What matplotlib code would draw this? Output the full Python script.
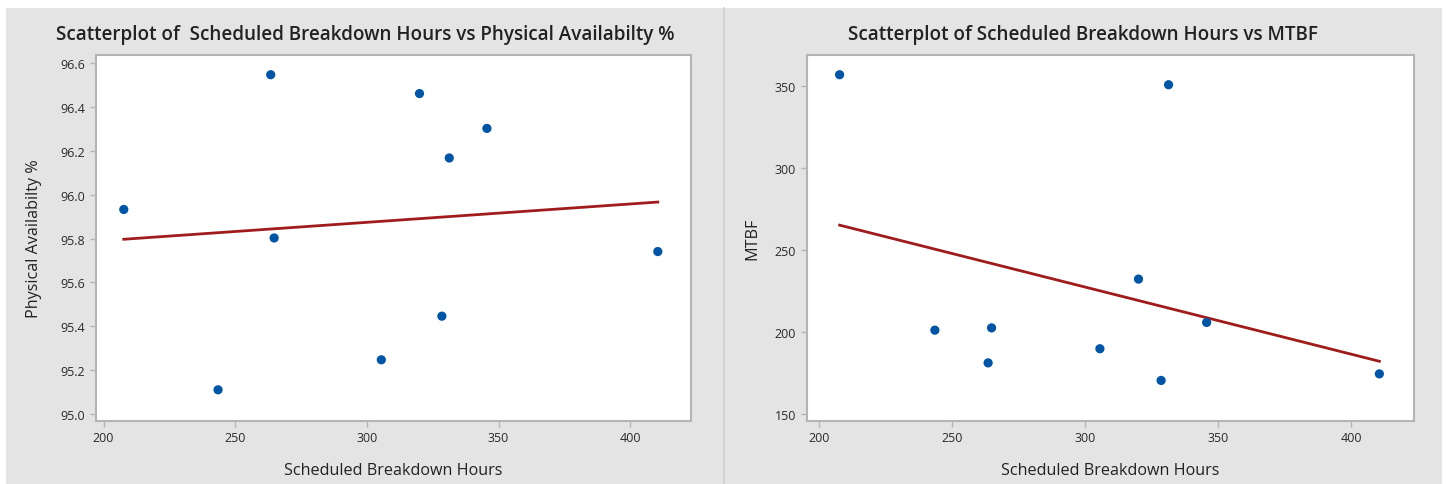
import numpy as np
import matplotlib
matplotlib.use("Agg")
import matplotlib.pyplot as plt
from matplotlib.patches import Rectangle
from matplotlib.lines import Line2D

plt.rcParams['font.family'] = ['Open Sans', 'DejaVu Sans']

# ---------------------------
# data
# ---------------------------
sched_hours = [207.7, 243.5, 263.5, 264.8, 305.5, 320.0, 328.5, 331.3, 345.6, 410.5]
phys_avail = [95.933, 95.110, 96.548, 95.803, 95.247, 96.462, 95.446, 96.168, 96.303, 95.741]
mtbf = [356.7, 201.2, 181.3, 202.6, 189.9, 232.3, 170.6, 350.6, 205.9, 174.6]

left_yticks = [95.0, 95.2, 95.4, 95.6, 95.8, 96.0, 96.2, 96.4, 96.6]
right_yticks = [150, 200, 250, 300, 350]
xticks = [200, 250, 300, 350, 400]

W, H = 1447, 485
fig = plt.figure(figsize=(W / 100, H / 100), dpi=100, facecolor='white')

# grey panel background with a separator line (behind the axes)
fig.patches.append(Rectangle((6 / W, 0), (1442 - 6) / W, 1 - 9 / H,
                             transform=fig.transFigure, facecolor='#e4e4e4',
                             edgecolor='none', zorder=-10))
fig.lines.append(Line2D([724 / W, 724 / W], [0, 1 - 9 / H], transform=fig.transFigure,
                        color='#d0d0d0', lw=1.2, zorder=-9))

BLUE = '#0055a5'
RED = '#a01c1c'
FRAME = '#b4b4b4'


def panel(rect, x, y, yticks, xlim, ylim, ylabel, ylab_x, fmt):
    ax = fig.add_axes(rect)
    ax.set_facecolor('white')
    ax.scatter(x, y, s=44, color=BLUE, zorder=3, edgecolors='none')
    # least squares fit line
    k, b = np.polyfit(x, y, 1)
    xs = np.array([min(x), max(x)])
    ax.plot(xs, k * xs + b, color=RED, lw=2, zorder=2)
    ax.set_xlim(*xlim)
    ax.set_ylim(*ylim)
    ax.set_xticks(xticks)
    ax.set_yticks(yticks)
    ax.set_yticklabels([fmt.format(v) for v in yticks])
    for s in ax.spines.values():
        s.set_color(FRAME)
        s.set_linewidth(1.5)
    ax.tick_params(colors=FRAME, labelcolor='#2a2a2a', labelsize=9, length=4, width=1)
    ax.set_xlabel('Scheduled Breakdown Hours', fontsize=11.6, color='#222222')
    ax.xaxis.set_label_coords(0.5, -0.113)
    ax.set_ylabel(ylabel, fontsize=11.6, color='#222222')
    ax.yaxis.set_label_coords(ylab_x, 0.5)
    return ax


panel([95.6 / W, 1 - 421.7 / H, (691 - 95.6) / W, (421.7 - 56) / H],
      sched_hours, phys_avail, left_yticks, (197.0, 423.1), (94.969, 96.638),
      'Physical Availabilty %', -0.0905, '{:.1f}')
panel([806.6 / W, 1 - 421.7 / H, (1413.7 - 806.6) / W, (421.7 - 56) / H],
      sched_hours, mtbf, right_yticks, (195.3, 423.4), (146.1, 368.7),
      'MTBF', -0.0768, '{:d}')

fig.text(365 / W, 1 - 35 / H, 'Scatterplot of  Scheduled Breakdown Hours vs Physical Availabilty %',
         ha='center', va='center', fontsize=13.6, fontweight='semibold', color='#222222')
fig.text(1083 / W, 1 - 35 / H, 'Scatterplot of Scheduled Breakdown Hours vs MTBF',
         ha='center', va='center', fontsize=13.6, fontweight='semibold', color='#222222')

fig.savefig('out.png', dpi=100, facecolor=fig.get_facecolor())
